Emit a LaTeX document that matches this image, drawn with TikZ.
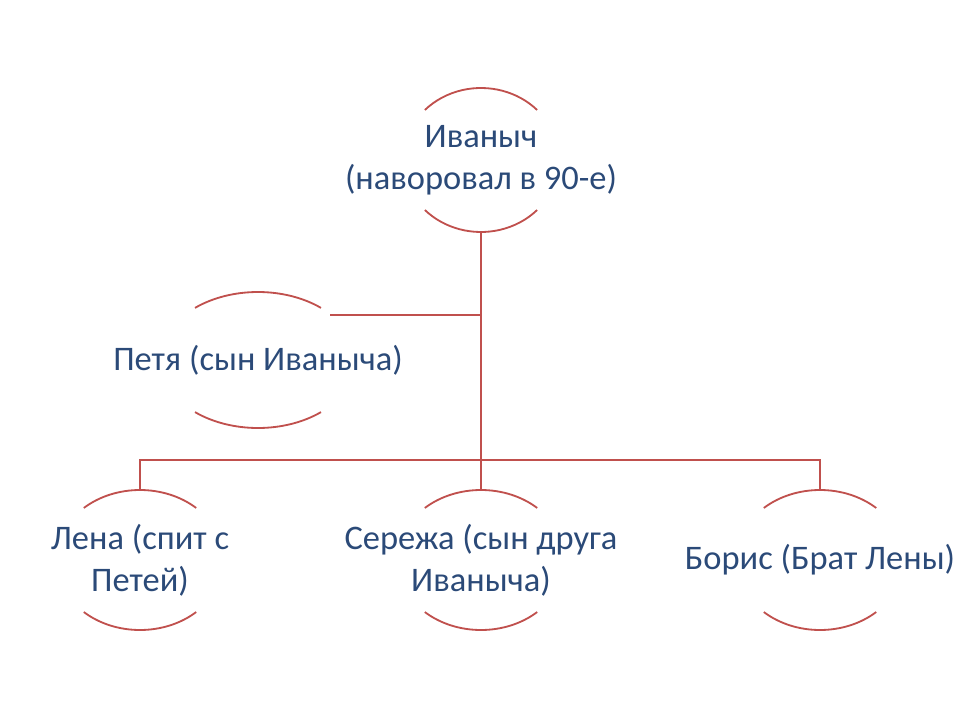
\documentclass[tikz,border=0pt]{standalone}
\usepackage{fontspec}
\setmainfont{Carlito}
\usetikzlibrary{calc}
\definecolor{arcred}{HTML}{C0504D}
\definecolor{textblue}{HTML}{2B4A78}
\tikzset{
    member/.style={text=textblue, align=center, font=\fontsize{24.5}{30}\selectfont},
    link/.style={draw=arcred, line width=1.3pt},
}
% arcs above and below a member: center, x radius, y radius, angle
\newcommand{\arcpair}[4]{
    \draw[link] ($(#1)+(#4:#2 and #3)$) arc[start angle=#4, end angle=180-#4, x radius=#2, y radius=#3];
    \draw[link] ($(#1)+(180+#4:#2 and #3)$) arc[start angle=180+#4, end angle=360-#4, x radius=#2, y radius=#3];
}
\begin{document}
\begin{tikzpicture}
    \useasboundingbox (0,0) rectangle (24,18);
    \node[member] (ivanych) at (12.025,14.0) {Иваныч\\(наворовал в 90-е)};
    \node[member] (petya) at (6.45,9.0) {Петя (сын Иваныча)};
    \node[member] (lena) at (3.5,4.0) {Лена (спит с\\Петей)};
    \node[member] (serezha) at (12.025,4.0) {Сережа (сын друга\\Иваныча)};
    \node[member] (boris) at (20.5,4.0) {Борис (Брат Лены)};

    \arcpair{ivanych}{1.95}{1.8}{44}
    \arcpair{petya}{2.45}{1.7}{50}
    \arcpair{lena}{2.1}{1.75}{48}
    \arcpair{serezha}{2.1}{1.75}{48}
    \arcpair{boris}{2.1}{1.75}{48}

    \coordinate (ivanychbot) at ($(ivanych)+(0,-1.8)$);
    \coordinate (bus) at (12.025,6.5);
    \coordinate (petyahook) at (12.025,10.125);
    \draw[link] (ivanychbot) -- (bus);
    \draw[link] (petyahook) -- (8.25,10.125);
    \draw[link] ($(lena)+(0,1.75)$) |- (bus) -| ($(boris)+(0,1.75)$);
    \draw[link] (bus) -- ($(serezha)+(0,1.75)$);
\end{tikzpicture}
\end{document}
